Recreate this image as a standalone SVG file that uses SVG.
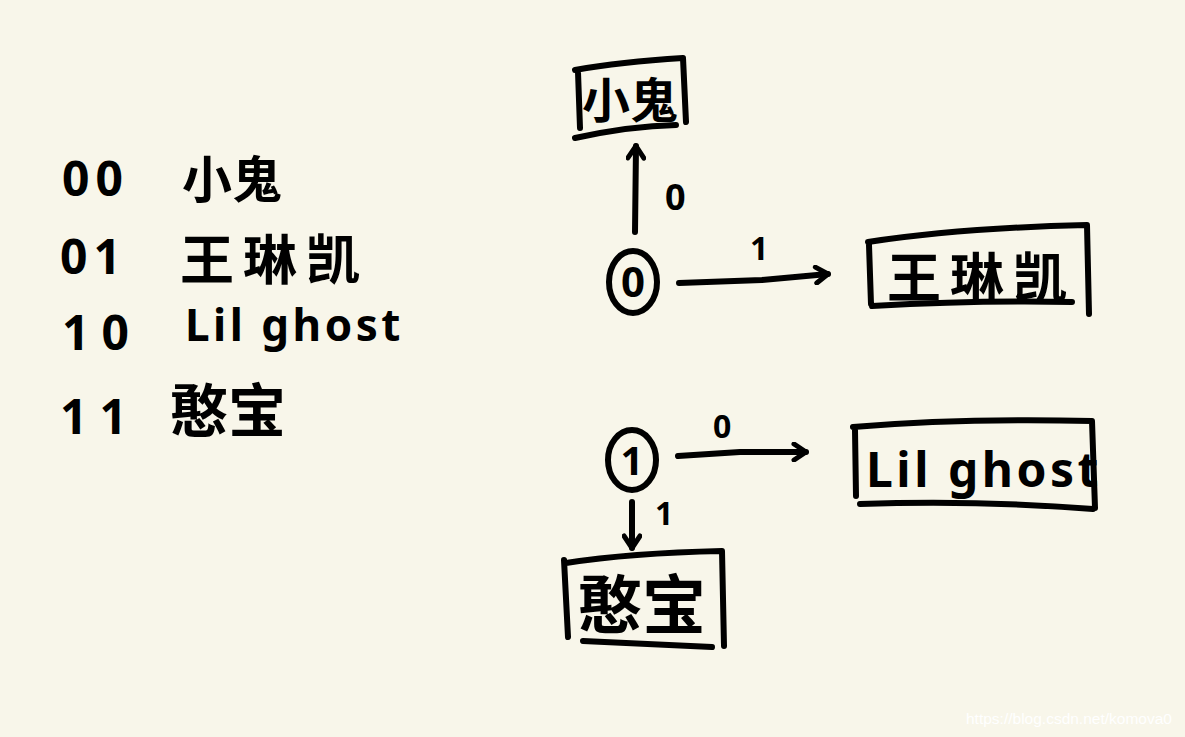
<svg xmlns="http://www.w3.org/2000/svg" width="1185" height="737" viewBox="0 0 1185 737">
<style>
.bg{fill:#f8f6ea}
.s{fill:none;stroke:#000;stroke-width:6;stroke-linecap:round;stroke-linejoin:round}
.t{font-family:"Noto Sans CJK SC","Noto Sans",sans-serif;font-weight:700;fill:#000}
.lat{font-family:"Noto Sans","Noto Sans CJK SC",sans-serif;font-weight:700;fill:#000}
.wm{font-family:"Liberation Sans",Arial,sans-serif;font-size:15.5px;fill:#ffffff}
</style>
<defs>
<marker id="ah" viewBox="0 0 20 20" refX="16" refY="10" markerWidth="20" markerHeight="20" markerUnits="userSpaceOnUse" orient="auto">
<path d="M4 2 L16 10 L4 18" fill="none" stroke="#000" stroke-width="5" stroke-linecap="round" stroke-linejoin="round"/>
</marker>
</defs>
<rect class="bg" x="0" y="0" width="1185" height="737"/>

<g id="legend">
<text class="lat" x="62" y="196" font-size="48" letter-spacing="6">00</text>
<text class="t" x="182" y="198" font-size="50">小鬼</text>
<text class="lat" x="60" y="274" font-size="48" letter-spacing="6">01</text>
<text class="t" x="180" y="280" font-size="54" letter-spacing="9">王琳凯</text>
<text class="lat" x="62" y="350" font-size="48" letter-spacing="12">10</text>
<text class="lat" x="185" y="341" font-size="44" letter-spacing="3.5">Lil ghost</text>
<text class="lat" x="60" y="434" font-size="48" letter-spacing="12">11</text>
<text class="t" x="170" y="432" font-size="58">憨宝</text>
</g>

<g id="connectors">
<path class="s" d="M635 232 L636 146" marker-end="url(#ah)"/>
<text class="lat" x="665" y="210" font-size="36">0</text>
<path class="s" d="M679 283 L762 280 L828 274" marker-end="url(#ah)"/>
<text class="lat" x="750" y="260" font-size="32">1</text>
<path class="s" d="M678 456 L740 452 L806 452" marker-end="url(#ah)"/>
<text class="lat" x="713" y="438" font-size="32">0</text>
<path class="s" d="M632 502 L632 548" marker-end="url(#ah)"/>
<text class="lat" x="655" y="525" font-size="32">1</text>
</g>

<g id="node-xiaogui">
<path class="s" d="M575 70 Q620 62 683 58 L686 122 M578 72 L580 128 M575 138 Q630 126 676 125"/>
<text class="t" x="582" y="118" font-size="48">小鬼</text>
</g>

<g id="node-0">
<ellipse class="s" cx="633" cy="282" rx="24" ry="31"/>
<text class="lat" x="633" y="297" font-size="42" text-anchor="middle">0</text>
</g>

<g id="node-wanglinkai">
<path class="s" d="M868 242 Q960 228 1087 225 L1089 314 M869 245 L871 304 M872 306 Q980 300 1072 302"/>
<text class="t" x="887" y="298" font-size="54" letter-spacing="9">王琳凯</text>
</g>

<g id="node-1">
<ellipse class="s" cx="632" cy="460" rx="24" ry="30"/>
<text class="lat" x="632" y="475" font-size="40" text-anchor="middle">1</text>
</g>

<g id="node-lilghost">
<path class="s" d="M853 427 Q960 418 1092 421 L1095 508 M855 430 L856 496 M860 504 Q980 500 1093 509"/>
<text class="lat" x="866" y="487" font-size="48" letter-spacing="3.5">Lil ghost</text>
</g>

<g id="node-hanbao">
<path class="s" d="M566 563 Q630 553 722 551 L724 646 M564 560 L568 637 M583 641 Q650 644 712 647"/>
<text class="t" x="578" y="628" font-size="64">憨宝</text>
</g>

<text class="wm" x="966" y="724">https://blog.csdn.net/komova0</text>
</svg>
